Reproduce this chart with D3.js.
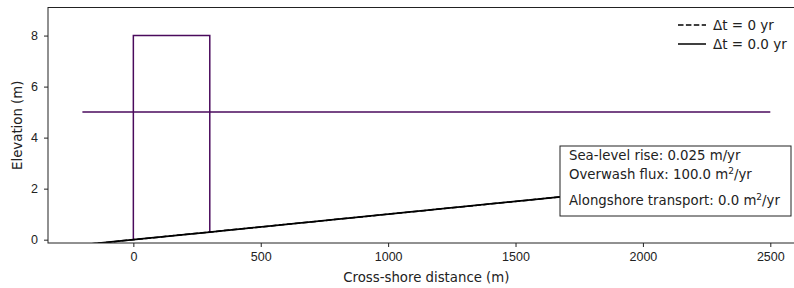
<!DOCTYPE html>
<html>
<head>
<meta charset="utf-8">
<script src="https://cdn.jsdelivr.net/npm/d3@7"></script>
<style>
  body { margin: 0; background: #fff; }
  svg { display: block; font-family: "DejaVu Sans", sans-serif; }
  .axis text { font-size: 12.5px; fill: #222; }
  .axis path, .axis line { stroke: #222; }
</style>
</head>
<body>
<svg id="chart" width="794" height="288"></svg>
<script>
// profile at t=0 (dashed) and current (solid) -- same here
const profileX = [-200, 0, 300, 2500];
const profileY = [-0.2, 0, 0.3, 2.5];
// barrier outline
const barrierX = [0, 0, 300, 300];
const barrierY = [0, 8, 8, 0.3];
// sea level
const seaX = [-200, 2500];
const seaY = [5, 5];

const xTicks = [0, 500, 1000, 1500, 2000, 2500];
const yTicks = [0, 2, 4, 6, 8];
const legendLabels = ["\u0394t = 0 yr", "\u0394t = 0.0 yr"];
const infoLines = [
  ["Sea-level rise: 0.025 m/yr", null],
  ["Overwash flux: 100.0 m", "/yr"],
  ["Alongshore transport: 0.0 m", "/yr"]
];

const svg = d3.select("#chart");
const mLeft = 48, mTop = 7.5, mRight = 804.7, mBottom = 243;

const x = d3.scaleLinear().domain([-335, 2635]).range([mLeft, mRight]);
const y = d3.scaleLinear().domain([-0.13, 9.1]).range([mBottom, mTop]);

svg.append("defs").append("clipPath").attr("id", "clip")
  .append("rect").attr("x", mLeft).attr("y", mTop)
  .attr("width", mRight - mLeft).attr("height", mBottom - mTop);

const line = d3.line().x(d => x(d[0])).y(d => y(d[1]));
const zip = (a, b) => a.map((v, i) => [v, b[i]]);

const plot = svg.append("g").attr("clip-path", "url(#clip)");

plot.append("path")
  .attr("d", line(zip(seaX, seaY)))
  .attr("fill", "none").attr("stroke", "#4a0a5c").attr("stroke-width", 1.5);

plot.append("path")
  .attr("d", line(zip(barrierX, barrierY)))
  .attr("fill", "none").attr("stroke", "#4a0a5c").attr("stroke-width", 1.5);

plot.append("path")
  .attr("d", line(zip(profileX, profileY)))
  .attr("fill", "none").attr("stroke", "#000").attr("stroke-width", 1.5)
  .attr("stroke-dasharray", "5.5,2.4");

plot.append("path")
  .attr("d", line(zip(profileX, profileY)))
  .attr("fill", "none").attr("stroke", "#000").attr("stroke-width", 1.8);

// axes
svg.append("g").attr("class", "axis")
  .attr("transform", "translate(0," + mBottom + ")")
  .call(d3.axisBottom(x).tickValues(xTicks).tickFormat(d3.format("d"))
    .tickSize(4).tickPadding(5.3).tickSizeOuter(0))
  .call(g => g.select(".domain").remove());

svg.append("g").attr("class", "axis")
  .attr("transform", "translate(" + mLeft + ",0)")
  .call(d3.axisLeft(y).tickValues(yTicks).tickFormat(d3.format("d"))
    .tickSize(4).tickPadding(6).tickSizeOuter(0))
  .call(g => g.select(".domain").remove());

svg.append("rect")
  .attr("x", mLeft).attr("y", mTop)
  .attr("width", mRight - mLeft).attr("height", mBottom - mTop)
  .attr("fill", "none").attr("stroke", "#222").attr("stroke-width", 1);

svg.append("text")
  .attr("x", (mLeft + mRight) / 2).attr("y", 277).attr("dy", "0.35em")
  .attr("text-anchor", "middle").style("font-size", "13.3px").attr("fill", "#222")
  .text("Cross-shore distance (m)");

svg.append("text")
  .attr("transform", "translate(17," + (mTop + mBottom) / 2 + ") rotate(-90)")
  .attr("dy", "0.35em")
  .attr("text-anchor", "middle").style("font-size", "13.3px").attr("fill", "#222")
  .text("Elevation (m)");

// legend
const leg = svg.append("g");
legendLabels.forEach((lab, i) => {
  const ly = 25 + i * 19;
  leg.append("line")
    .attr("x1", 678).attr("x2", 706).attr("y1", ly).attr("y2", ly)
    .attr("stroke", "#000").attr("stroke-width", 1.5)
    .attr("stroke-dasharray", i === 0 ? "5.5,2.4" : null);
  leg.append("text")
    .attr("x", 713).attr("y", ly).attr("dy", "0.35em")
    .style("font-size", "13.5px").attr("fill", "#222")
    .text(lab);
});

// info box
const box = svg.append("g");
box.append("rect")
  .attr("x", 560).attr("y", 146).attr("width", 231).attr("height", 70)
  .attr("fill", "#fff").attr("stroke", "#222").attr("stroke-width", 1);

const infoY = [155, 174, 200];
infoLines.forEach((ln, i) => {
  const t = box.append("text")
    .attr("x", 569).attr("y", infoY[i]).attr("dy", "0.35em")
    .style("font-size", "13.3px").attr("fill", "#222");
  t.append("tspan").text(ln[0]);
  if (ln[1]) {
    t.append("tspan").attr("dy", "-5").style("font-size", "9px").text("2");
    t.append("tspan").attr("dy", "5").text(ln[1]);
  }
});
</script>
</body>
</html>
